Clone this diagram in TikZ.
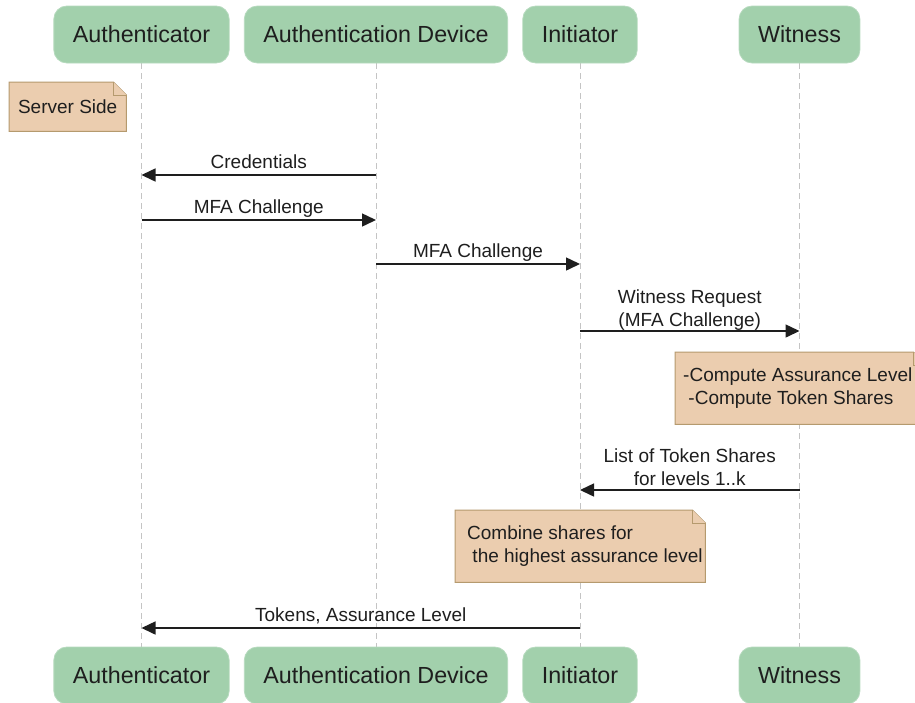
\documentclass[tikz,border=0pt]{standalone}
\usepackage{fontspec}
\setmainfont{Liberation Sans}
\usetikzlibrary{arrows.meta,backgrounds}

\definecolor{actorfill}{HTML}{A2D0AC}
\definecolor{actorline}{HTML}{B6DABE}
\definecolor{notefill}{HTML}{EBCDAF}
\definecolor{noteline}{HTML}{B59A6E}
\definecolor{inkc}{HTML}{1E1E1E}
\definecolor{lifec}{HTML}{C4C4C4}

\tikzset{
  actor/.style={rectangle, rounded corners=13pt, fill=actorfill, draw=actorline,
    line width=0.8pt, minimum height=57pt, inner xsep=19pt, inner ysep=0pt,
    text=inkc, font=\fontsize{23.3}{28}\selectfont},
  lifeline/.style={draw=lifec, line width=1pt, dash pattern=on 6pt off 4pt},
  msg/.style={draw=inkc, line width=1.5pt, -{Triangle[length=14pt,width=13pt]}},
  msglabel/.style={text=inkc, font=\fontsize{19}{23.5}\selectfont, align=center,
    inner sep=0pt, anchor=base, yshift=6.3pt},
  noteframe/.style={rectangle, inner sep=0pt, anchor=north west},
  noteshape/.style={fill=notefill, draw=noteline, line width=1pt},
  notetext/.style={text=inkc, font=\fontsize{19}{23}\selectfont, align=left,
    inner sep=0pt, anchor=west},
}

% folded-corner outline around a frame node
\newcommand\foldednote[1]{%
  \filldraw[noteshape] (#1.north west) -- ([xshift=-13pt]#1.north east)
    -- ([yshift=-13pt]#1.north east) -- (#1.south east) -- (#1.south west) -- cycle;
  \filldraw[noteshape] ([xshift=-13pt]#1.north east)
    -- ([xshift=-13pt,yshift=-13pt]#1.north east) -- ([yshift=-13pt]#1.north east);
}

\begin{document}
\begin{tikzpicture}[x=1pt, y=-1pt]
  \useasboundingbox (0,0) rectangle (915,702);
  \clip (0,0) rectangle (915,702);

  % participants, top and bottom
  \node[actor] (a1)  at (141.5,34.5) {Authenticator};
  \node[actor] (ad)  at (376,34.5)   {Authentication Device};
  \node[actor] (in)  at (580,34.5)   {Initiator};
  \node[actor] (wi)  at (799.5,34.5) {Witness};
  \node[actor] (a1b) at (141.5,675.5) {Authenticator};
  \node[actor] (adb) at (376,675.5)   {Authentication Device};
  \node[actor] (inb) at (580,675.5)   {Initiator};
  \node[actor] (wib) at (799.5,675.5) {Witness};

  % lifelines
  \begin{scope}[on background layer]
    \draw[lifeline] (a1) -- (a1b);
    \draw[lifeline] (ad) -- (adb);
    \draw[lifeline] (in) -- (inb);
    \draw[lifeline] (wi) -- (wib);
  \end{scope}

  % server side note
  \node[noteframe, minimum width=117pt, minimum height=49pt] (ss) at (9,82) {};
  \foldednote{ss}
  \node[notetext, anchor=center] (sst) at (ss) {Server Side};

  % messages
  \draw[msg] (ad |- 0,175) -- (a1 |- 0,175)
    node[msglabel, midway] (m1) {Credentials};
  \draw[msg] (a1 |- 0,220) -- (ad |- 0,220)
    node[msglabel, midway] (m2) {MFA Challenge};
  \draw[msg] (ad |- 0,264) -- (in |- 0,264)
    node[msglabel, midway] (m3) {MFA Challenge};
  \draw[msg] (in |- 0,331) -- (wi |- 0,331)
    node[msglabel, midway, yshift=-2pt] (m4) {Witness Request\\(MFA Challenge)};

  % witness computation note
  \node[noteframe, minimum width=251pt, minimum height=72pt] (n1) at (675,352) {};
  \foldednote{n1}
  \node[notetext] (n1t) at ([xshift=8pt]n1.west)
    {-Compute Assurance Level\\\hspace*{0.278em}-Compute Token Shares};

  \draw[msg] (wi |- 0,490) -- (in |- 0,490)
    node[msglabel, midway, yshift=-2pt] (m5) {List of Token Shares\\for levels 1..k};

  % initiator combination note
  \node[noteframe, minimum width=250pt, minimum height=72pt] (n2) at (455,510) {};
  \foldednote{n2}
  \node[notetext] (n2t) at ([xshift=12pt]n2.west)
    {Combine shares for\\\hspace*{0.278em}the highest assurance level};

  \draw[msg] (in |- 0,628) -- (a1 |- 0,628)
    node[msglabel, midway] (m6) {Tokens, Assurance Level};
\end{tikzpicture}
\end{document}
